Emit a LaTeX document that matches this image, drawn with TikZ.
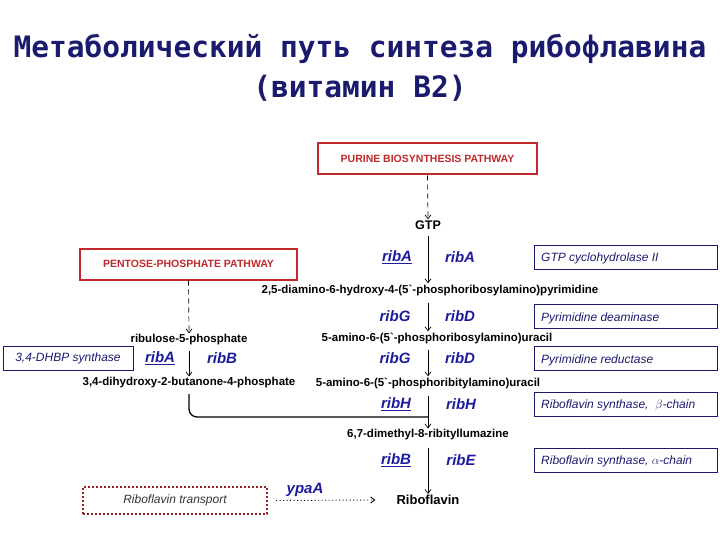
\documentclass[tikz,border=0pt]{standalone}
\usepackage{fontspec}
\setmainfont{Liberation Sans}
\newfontfamily\titlefont{DejaVu Sans Mono}
\usetikzlibrary{arrows.meta}
\definecolor{navy}{HTML}{1A1A6E}
\definecolor{gblue}{HTML}{1C1C9C}
\definecolor{pred}{HTML}{C0282C}
\begin{document}
\begin{tikzpicture}[x=1pt,y=-1pt,
  cmp/.style={font=\fontsize{11.5}{12}\selectfont\bfseries,inner sep=1pt},
  gene/.style={font=\fontsize{15}{16}\selectfont\bfseries\itshape,text=gblue,inner sep=1pt},
  ubox/.style={draw=navy,line width=0.8pt,minimum width=183pt,minimum height=24pt,anchor=west},
  utext/.style={text=navy,font=\fontsize{12}{13}\selectfont\itshape,anchor=west,inner sep=0pt},
  rbox/.style={draw=pred,line width=2pt,text=pred,font=\fontsize{10.5}{11}\selectfont\bfseries,minimum height=31pt},
  arr/.style={-{Straight Barb[length=4pt,width=6pt]},line width=0.7pt},
  darr/.style={arr,dashed,dash pattern=on 5pt off 4pt}]
\useasboundingbox (0,0) rectangle (720,540);
\node[font=\titlefont\fontsize{29.5}{40}\selectfont\bfseries,text=navy,align=center] (title) at (360,68) {Метаболический путь синтеза рибофлавина\\(витамин B2)};
\node[rbox,minimum width=219pt] (pur) at (427.5,159) {PURINE BIOSYNTHESIS PATHWAY};
\node[rbox,minimum width=217pt] (pen) at (188.5,264) {PENTOSE-PHOSPHATE PATHWAY};
\node[cmp,font=\fontsize{12.5}{13}\selectfont\bfseries] (gtp) at (428,225) {GTP};
\node[cmp] (c1) at (430,290) {2,5-diamino-6-hydroxy-4-(5\textasciigrave-phosphoribosylamino)pyrimidine};
\node[cmp] (c2) at (437,338) {5-amino-6-(5\textasciigrave-phosphoribosylamino)uracil};
\node[cmp] (c3) at (428,383) {5-amino-6-(5\textasciigrave-phosphoribitylamino)uracil};
\node[cmp] (c4) at (428,435) {6,7-dimethyl-8-ribityllumazine};
\node[cmp,font=\fontsize{13}{14}\selectfont\bfseries] (rf) at (428,500) {Riboflavin};
\node[cmp] (r5p) at (189,340) {ribulose-5-phosphate};
\node[cmp] (dhb) at (189,383) {3,4-dihydroxy-2-butanone-4-phosphate};
\node[gene] at (397,257) {\underline{ribA}};
\node[gene] at (460,257) {ribA};
\node[gene] at (395,316) {ribG};
\node[gene] at (460,316) {ribD};
\node[gene] at (395,358) {ribG};
\node[gene] at (460,358) {ribD};
\node[gene] at (396,404) {\underline{ribH}};
\node[gene] at (461,404) {ribH};
\node[gene] at (396,460) {\underline{ribB}};
\node[gene] at (461,460) {ribE};
\node[gene] at (160,358) {\underline{ribA}};
\node[gene] at (222,358) {ribB};
\node[gene] (ypa) at (305,490) {ypaA};
\node[ubox] (b1) at (534,257) {};
\node[utext] at ([xshift=7pt,yshift=-1.5pt]b1.west) {GTP cyclohydrolase II};
\node[ubox] (b2) at (534,316.5) {};
\node[utext] at ([xshift=7pt,yshift=-1.5pt]b2.west) {Pyrimidine deaminase};
\node[ubox] (b3) at (534,358.5) {};
\node[utext] at ([xshift=7pt,yshift=-1.5pt]b3.west) {Pyrimidine reductase};
\node[ubox] (b4) at (534,404) {};
\node[utext] at ([xshift=7pt,yshift=-1.5pt]b4.west) {Riboflavin synthase,\ \ $\beta$-chain};
\node[ubox] (b5) at (534,460) {};
\node[utext] at ([xshift=7pt,yshift=-1.5pt]b5.west) {Riboflavin synthase, $\alpha$-chain};
\node[draw=navy,line width=0.8pt,minimum width=130pt,minimum height=24pt,text=navy,font=\fontsize{12}{13}\selectfont\itshape] (b6) at (68,358) {3,4-DHBP synthase};
\node[draw=pred!80!black,line width=2pt,dotted,minimum width=184pt,minimum height=27pt,text=black!80,font=\fontsize{12}{13}\selectfont\itshape] (tr) at (175,500.5) {Riboflavin transport};
\coordinate (j) at (428,417);
\draw[darr] (pur.south) -- (gtp.north);
\draw[arr] ([yshift=-5pt]gtp.south) -- (gtp.south |- c1.north);
\draw[arr] (c1.south -| gtp.south) ++(0,6) -- (gtp.south |- c2.north);
\draw[arr] (c2.south -| gtp.south) ++(0,5) -- (gtp.south |- c3.north);
\draw[arr] (c3.south -| gtp.south) ++(0,6) -- (c4.north);
\draw[arr] (c4.south) ++(0,6) -- (rf.north);
\draw[darr] (pen.south) -- (r5p.north);
\draw[arr] (r5p.south) ++(0,4) -- (dhb.north);
\draw[line width=1.3pt,rounded corners=8pt] (189,394) -- (189,417) -- (j);
\draw[-{Straight Barb[length=4pt,width=6pt]},line width=0.9pt,dash pattern=on 1pt off 2.5pt] (tr.east) ++(8,0) -- ([xshift=-20pt]rf.west);
\end{tikzpicture}
\end{document}
